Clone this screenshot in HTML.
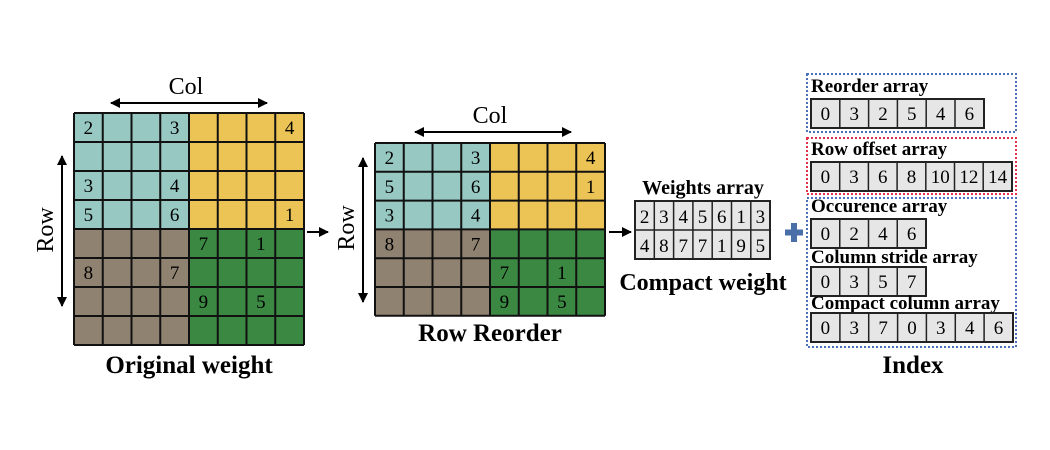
<!DOCTYPE html>
<html><head><meta charset="utf-8"><style>
html,body{margin:0;padding:0;background:#fff;}
svg{display:block;}
text{font-family:"Liberation Serif",serif;}
.n{font-size:19px;text-anchor:middle;}
.b{font-weight:bold;}
</style></head><body>
<svg width="1050" height="450" viewBox="0 0 1050 450" xmlns="http://www.w3.org/2000/svg">
<defs>
<marker id="ah" viewBox="0 0 10 10" refX="9" refY="5" markerWidth="5" markerHeight="5" orient="auto-start-reverse"><path d="M0,0 L10,5 L0,10 z" fill="#000"/></marker>
</defs>

<!-- Grid 1 -->
<rect x="74" y="113" width="115" height="116" fill="#97c8c2"/>
<rect x="189" y="113" width="115" height="116" fill="#ecc355"/>
<rect x="74" y="229" width="115" height="116" fill="#8f8270"/>
<rect x="189" y="229" width="115" height="116" fill="#3b8843"/>
<g stroke="#111" stroke-width="2">
<path d="M74,113V345M102.75,113V345M131.5,113V345M160.25,113V345M189,113V345M217.75,113V345M246.5,113V345M275.25,113V345M304,113V345"/>
<path d="M74,113H304M74,142H304M74,171H304M74,200H304M74,229H304M74,258H304M74,287H304M74,316H304M74,345H304"/>
</g>
<text class="n" x="88.4" y="134">2</text><text class="n" x="174.6" y="134">3</text><text class="n" x="289.6" y="134">4</text>
<text class="n" x="88.4" y="192">3</text><text class="n" x="174.6" y="192">4</text>
<text class="n" x="88.4" y="221">5</text><text class="n" x="174.6" y="221">6</text><text class="n" x="289.6" y="221">1</text>
<text class="n" x="203.4" y="250">7</text><text class="n" x="260.9" y="250">1</text>
<text class="n" x="88.4" y="279">8</text><text class="n" x="174.6" y="279">7</text>
<text class="n" x="203.4" y="308">9</text><text class="n" x="260.9" y="308">5</text>
<line x1="111" y1="103" x2="267" y2="103" stroke="#000" stroke-width="2" marker-start="url(#ah)" marker-end="url(#ah)"/>
<text x="186" y="94" font-size="24" text-anchor="middle">Col</text>
<line x1="62" y1="156" x2="62" y2="306" stroke="#000" stroke-width="2" marker-start="url(#ah)" marker-end="url(#ah)"/>
<text x="0" y="0" font-size="24" text-anchor="middle" transform="translate(53,230) rotate(-90)">Row</text>
<text x="189" y="373" font-size="25" class="b" text-anchor="middle">Original weight</text>

<line x1="307" y1="232" x2="328" y2="232" stroke="#000" stroke-width="2" marker-end="url(#ah)"/>

<!-- Grid 2 -->
<rect x="375" y="143" width="115" height="86.4" fill="#97c8c2"/>
<rect x="490" y="143" width="115" height="86.4" fill="#ecc355"/>
<rect x="375" y="229.4" width="115" height="86.4" fill="#8f8270"/>
<rect x="490" y="229.4" width="115" height="86.4" fill="#3b8843"/>
<g stroke="#111" stroke-width="2">
<path d="M375,143V315.8M403.75,143V315.8M432.5,143V315.8M461.25,143V315.8M490,143V315.8M518.75,143V315.8M547.5,143V315.8M576.25,143V315.8M605,143V315.8"/>
<path d="M375,143H605M375,171.8H605M375,200.6H605M375,229.4H605M375,258.2H605M375,287H605M375,315.8H605"/>
</g>
<text class="n" x="389.4" y="164">2</text><text class="n" x="475.6" y="164">3</text><text class="n" x="590.6" y="164">4</text>
<text class="n" x="389.4" y="192.8">5</text><text class="n" x="475.6" y="192.8">6</text><text class="n" x="590.6" y="192.8">1</text>
<text class="n" x="389.4" y="221.6">3</text><text class="n" x="475.6" y="221.6">4</text>
<text class="n" x="389.4" y="250.4">8</text><text class="n" x="475.6" y="250.4">7</text>
<text class="n" x="504.4" y="279.2">7</text><text class="n" x="561.9" y="279.2">1</text>
<text class="n" x="504.4" y="308">9</text><text class="n" x="561.9" y="308">5</text>
<line x1="415" y1="132" x2="571" y2="132" stroke="#000" stroke-width="2" marker-start="url(#ah)" marker-end="url(#ah)"/>
<text x="490" y="123" font-size="24" text-anchor="middle">Col</text>
<line x1="363" y1="158" x2="363" y2="302" stroke="#000" stroke-width="2" marker-start="url(#ah)" marker-end="url(#ah)"/>
<text x="0" y="0" font-size="24" text-anchor="middle" transform="translate(354,228) rotate(-90)">Row</text>
<text x="490" y="341" font-size="25" class="b" text-anchor="middle">Row Reorder</text>

<line x1="609" y1="232" x2="631" y2="232" stroke="#000" stroke-width="2" marker-end="url(#ah)"/>

<!-- Weights array -->
<text x="703" y="194" font-size="20" class="b" text-anchor="middle">Weights array</text>
<rect x="635" y="201" width="135" height="58" fill="#e6e6e6" stroke="#222" stroke-width="2"/>
<g stroke="#222" stroke-width="1.5">
<path d="M654.3,201V259M673.6,201V259M692.9,201V259M712.2,201V259M731.5,201V259M750.8,201V259M635,230H770"/>
</g>
<text class="n" x="644.6" y="223">2</text><text class="n" x="663.9" y="223">3</text><text class="n" x="683.2" y="223">4</text><text class="n" x="702.5" y="223">5</text><text class="n" x="721.8" y="223">6</text><text class="n" x="741.1" y="223">1</text><text class="n" x="760.4" y="223">3</text>
<text class="n" x="644.6" y="252">4</text><text class="n" x="663.9" y="252">8</text><text class="n" x="683.2" y="252">7</text><text class="n" x="702.5" y="252">7</text><text class="n" x="721.8" y="252">1</text><text class="n" x="741.1" y="252">9</text><text class="n" x="760.4" y="252">5</text>
<text x="703" y="290" font-size="24" class="b" text-anchor="middle">Compact weight</text>

<!-- plus -->
<path d="M791,223H797V229.5H803V235.5H797V242H791V235.5H785V229.5H791Z" fill="#4a6fa8"/>

<!-- Index boxes -->
<rect x="807" y="74" width="209" height="58" fill="none" stroke="#4a72b8" stroke-width="2" stroke-dasharray="2,2"/>
<rect x="807" y="138" width="209" height="56" fill="none" stroke="#e0304a" stroke-width="2" stroke-dasharray="2,2"/>
<rect x="807" y="198" width="209" height="149" fill="none" stroke="#4a72b8" stroke-width="2" stroke-dasharray="2,2"/>

<text x="811" y="92" font-size="19" class="b">Reorder array</text>
<rect x="811" y="99" width="173" height="29" fill="#e6e6e6" stroke="#222" stroke-width="2"/>
<path d="M839.8,99V128M868.6,99V128M897.4,99V128M926.2,99V128M955,99V128" stroke="#222" stroke-width="1.5"/>
<text class="n" x="825.4" y="120">0</text><text class="n" x="854.2" y="120">3</text><text class="n" x="883" y="120">2</text><text class="n" x="911.8" y="120">5</text><text class="n" x="940.6" y="120">4</text><text class="n" x="969.4" y="120">6</text>

<text x="811" y="155" font-size="19" class="b">Row offset array</text>
<rect x="811" y="162" width="201" height="29" fill="#e6e6e6" stroke="#222" stroke-width="2"/>
<path d="M839.7,162V191M868.4,162V191M897.1,162V191M925.8,162V191M954.5,162V191M983.2,162V191" stroke="#222" stroke-width="1.5"/>
<text class="n" x="825.4" y="183">0</text><text class="n" x="854" y="183">3</text><text class="n" x="882.8" y="183">6</text><text class="n" x="911.5" y="183">8</text><text class="n" x="940.2" y="183">10</text><text class="n" x="968.9" y="183">12</text><text class="n" x="997.6" y="183">14</text>

<text x="811" y="212" font-size="19" class="b">Occurence array</text>
<rect x="811" y="219" width="115" height="29" fill="#e6e6e6" stroke="#222" stroke-width="2"/>
<path d="M839.75,219V248M868.5,219V248M897.25,219V248" stroke="#222" stroke-width="1.5"/>
<text class="n" x="825.4" y="240">0</text><text class="n" x="854.1" y="240">2</text><text class="n" x="882.9" y="240">4</text><text class="n" x="911.6" y="240">6</text>

<text x="811" y="263" font-size="19" class="b">Column stride array</text>
<rect x="811" y="267" width="115" height="29" fill="#e6e6e6" stroke="#222" stroke-width="2"/>
<path d="M839.75,267V296M868.5,267V296M897.25,267V296" stroke="#222" stroke-width="1.5"/>
<text class="n" x="825.4" y="288">0</text><text class="n" x="854.1" y="288">3</text><text class="n" x="882.9" y="288">5</text><text class="n" x="911.6" y="288">7</text>

<text x="811" y="309" font-size="19" class="b">Compact column array</text>
<rect x="811" y="313" width="202" height="29" fill="#e6e6e6" stroke="#222" stroke-width="2"/>
<path d="M839.9,313V342M868.7,313V342M897.6,313V342M926.4,313V342M955.3,313V342M984.1,313V342" stroke="#222" stroke-width="1.5"/>
<text class="n" x="825.4" y="334">0</text><text class="n" x="854.3" y="334">3</text><text class="n" x="883.1" y="334">7</text><text class="n" x="912" y="334">0</text><text class="n" x="940.8" y="334">3</text><text class="n" x="969.7" y="334">4</text><text class="n" x="998.5" y="334">6</text>

<text x="913" y="373" font-size="25" class="b" text-anchor="middle">Index</text>
</svg>
</body></html>
